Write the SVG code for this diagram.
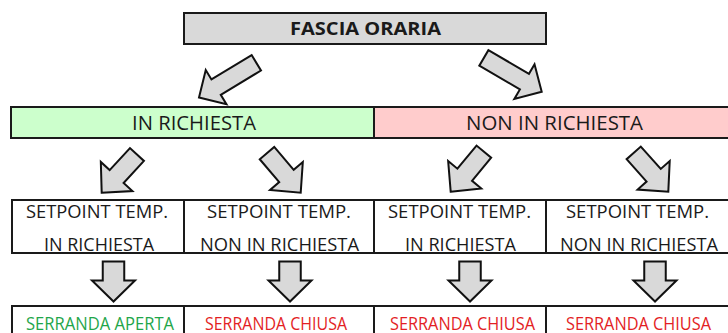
<svg xmlns="http://www.w3.org/2000/svg" width="728" height="333" viewBox="0 0 728 333">
<style>
  .box { stroke: #1a1a1a; stroke-width: 2; }
  .gray { fill: #d9d9d9; }
  .green { fill: #ccffcc; }
  .pink { fill: #ffcccc; }
  .white { fill: #ffffff; }
  text { font-family: "Open Sans", "Liberation Sans", sans-serif; font-size: 18.5px; fill: #1a1a1a; }
  .bold { font-weight: bold; }
  .bar { font-size: 19.5px; }
  .ok { fill: #1fa64a; }
  .ko { fill: #e31e24; }
  .arrow { fill: #d9d9d9; stroke: #111; stroke-width: 2; stroke-linejoin: miter; }
</style>
<defs>
  <path id="aTop" d="M0,0 L-20,-20 L-20,-9 L-67,-9 L-67,9 L-20,9 L-20,20 Z"/>
  <path id="aMid" d="M0,0 L-22,-21.5 L-22,-9.5 L-52,-9.5 L-52,9.5 L-22,9.5 L-22,21.5 Z"/>
  <path id="aDown" d="M0,0 L-21.5,-21 L-10.75,-21 L-10.75,-40 L10.75,-40 L10.75,-21 L21.5,-21 Z"/>
</defs>
<rect width="728" height="333" fill="#ffffff"/>

<g id="fascia-oraria">
  <rect class="box gray" x="184" y="13" width="362" height="31"/>
  <text class="bold" x="290" y="35" textLength="151" lengthAdjust="spacingAndGlyphs">FASCIA ORARIA</text>
</g>

<g id="in-richiesta">
  <rect class="box green" x="11" y="107" width="363" height="31"/>
  <text class="bar" x="132" y="129.5" textLength="124" lengthAdjust="spacingAndGlyphs">IN RICHIESTA</text>
</g>

<g id="non-in-richiesta">
  <rect class="box pink" x="374" y="107" width="362" height="31"/>
  <text class="bar" x="466" y="129.5" textLength="177" lengthAdjust="spacingAndGlyphs">NON IN RICHIESTA</text>
</g>

<g id="setpoint-1">
  <rect class="box white" x="12" y="200" width="172" height="53"/>
  <text x="26" y="217.5" textLength="142" lengthAdjust="spacingAndGlyphs">SETPOINT TEMP.</text>
  <text x="44" y="250.5" textLength="110" lengthAdjust="spacingAndGlyphs">IN RICHIESTA</text>
</g>
<g id="setpoint-2">
  <rect class="box white" x="184" y="200" width="190" height="53"/>
  <text x="207" y="217.5" textLength="144" lengthAdjust="spacingAndGlyphs">SETPOINT TEMP.</text>
  <text x="200" y="250.5" textLength="159" lengthAdjust="spacingAndGlyphs">NON IN RICHIESTA</text>
</g>
<g id="setpoint-3">
  <rect class="box white" x="374" y="200" width="172" height="53"/>
  <text x="388" y="217.5" textLength="143" lengthAdjust="spacingAndGlyphs">SETPOINT TEMP.</text>
  <text x="405" y="250.5" textLength="111" lengthAdjust="spacingAndGlyphs">IN RICHIESTA</text>
</g>
<g id="setpoint-4">
  <rect class="box white" x="546" y="200" width="190" height="53"/>
  <text x="566" y="217.5" textLength="143" lengthAdjust="spacingAndGlyphs">SETPOINT TEMP.</text>
  <text x="560" y="250.5" textLength="158" lengthAdjust="spacingAndGlyphs">NON IN RICHIESTA</text>
</g>

<g id="serranda-1">
  <rect class="box white" x="12" y="306" width="172" height="40"/>
  <text class="ok" x="26" y="329.5" textLength="148" lengthAdjust="spacingAndGlyphs">SERRANDA APERTA</text>
</g>
<g id="serranda-2">
  <rect class="box white" x="184" y="306" width="190" height="40"/>
  <text class="ko" x="205" y="329.5" textLength="142" lengthAdjust="spacingAndGlyphs">SERRANDA CHIUSA</text>
</g>
<g id="serranda-3">
  <rect class="box white" x="374" y="306" width="172" height="40"/>
  <text class="ko" x="390" y="329.5" textLength="145" lengthAdjust="spacingAndGlyphs">SERRANDA CHIUSA</text>
</g>
<g id="serranda-4">
  <rect class="box white" x="546" y="306" width="190" height="40"/>
  <text class="ko" x="566" y="329.5" textLength="145" lengthAdjust="spacingAndGlyphs">SERRANDA CHIUSA</text>
</g>

<g id="connectors">
  <use href="#aTop" class="arrow" transform="translate(199,97.5) rotate(148.8)"/>
  <use href="#aTop" class="arrow" transform="translate(541.7,91.7) rotate(30.3)"/>
  <use href="#aMid" class="arrow" transform="translate(101.7,192.7) rotate(132.7)"/>
  <use href="#aMid" class="arrow" transform="translate(300.7,192.7) rotate(49.6)"/>
  <use href="#aMid" class="arrow" transform="translate(450.7,191.7) rotate(129.6)"/>
  <use href="#aMid" class="arrow" transform="translate(668.3,191.7) rotate(48.3)"/>
  <use href="#aDown" class="arrow" transform="translate(113.5,301.5)"/>
  <use href="#aDown" class="arrow" transform="translate(290,301.5)"/>
  <use href="#aDown" class="arrow" transform="translate(470,301.5)"/>
  <use href="#aDown" class="arrow" transform="translate(655,301.5)"/>
</g>
</svg>
